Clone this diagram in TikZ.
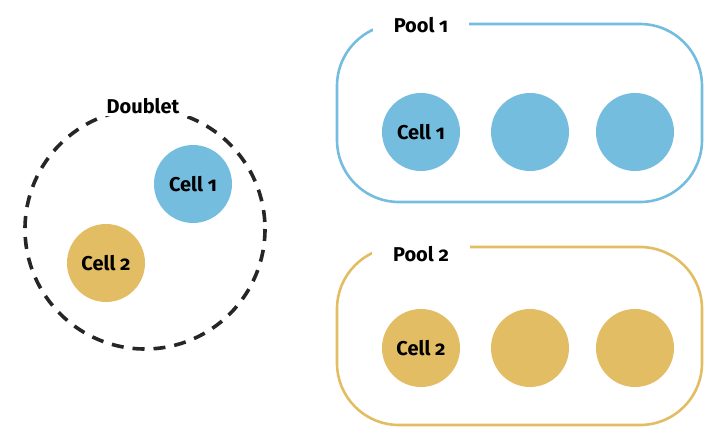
\documentclass[tikz,border=0pt]{standalone}
\usepackage{fontspec}
\setmainfont{Fira Sans}[Numbers=OldStyle]
\usepackage{tikz}
\usepackage{xcolor}

\definecolor{cellblue}{HTML}{74BDDF}
\definecolor{cellgold}{HTML}{E3BD63}

\tikzset{
    cell/.style={circle, minimum size=78pt, inner sep=0pt, font=\bfseries\fontsize{20}{24}\selectfont},
    tag/.style={fill=white, inner xsep=21pt, inner ysep=2pt, font=\bfseries\fontsize{20}{24}\selectfont},
    pool/.style={line width=2.6pt, rounded corners=62pt}
}

\begin{document}
\begin{tikzpicture}[x=1pt, y=-1pt]
    \useasboundingbox (0, 0) rectangle (724, 431);

    % Doublet
    \draw[line width=3.6pt, dash pattern=on 12pt off 9pt, black!85] (145, 229) circle (120);
    \node[tag, inner xsep=16pt] (doublet) at (143, 106) {Doublet};
    \node[cell, fill=cellblue] (dcellone) at (193, 184) {Cell 1};
    \node[cell, fill=cellgold] (dcelltwo) at (106, 263) {Cell 2};

    % Pool 1
    \draw[pool, cellblue] (337, 24) rectangle (702, 202);
    \node[tag] (poolone) at (421, 25) {Pool 1};
    \node[cell, fill=cellblue] (pcellone) at (421, 132) {Cell 1};
    \node[cell, fill=cellblue] (pcellb) at (530, 132) {};
    \node[cell, fill=cellblue] (pcellc) at (635, 132) {};

    % Pool 2
    \draw[pool, cellgold] (337, 247) rectangle (702, 425);
    \node[tag] (pooltwo) at (421, 254) {Pool 2};
    \node[cell, fill=cellgold] (pcelltwo) at (421, 348) {Cell 2};
    \node[cell, fill=cellgold] (pcelle) at (530, 348) {};
    \node[cell, fill=cellgold] (pcellf) at (635, 348) {};
\end{tikzpicture}
\end{document}
